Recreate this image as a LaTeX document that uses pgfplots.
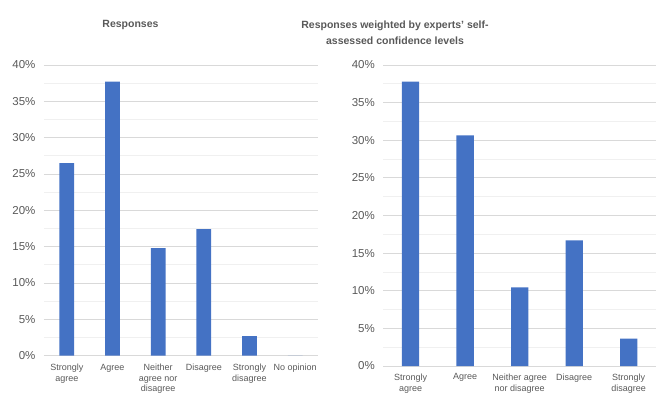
\documentclass[border=0pt]{standalone}
\usepackage{pgfplots}
\pgfplotsset{compat=1.18}
\usepackage{fontspec}
\setmainfont{Liberation Sans}
\definecolor{txt}{RGB}{89,89,89}
\definecolor{grid}{RGB}{217,217,217}
\definecolor{mgrid}{RGB}{240,240,240}
\definecolor{bar}{RGB}{68,114,196}
\pgfplotsset{
  mystyle/.style={
    scale only axis,
    anchor=south west,
    ybar,
    ymin=0, ymax=40,
    ytick={0,5,10,15,20,25,30,35,40},
    yticklabels={0\%,5\%,10\%,15\%,20\%,25\%,30\%,35\%,40\%},
    minor ytick={2.5,7.5,12.5,17.5,22.5,27.5,32.5,37.5},
    ymajorgrids, yminorgrids,
    major grid style={draw=grid, line width=0.8pt},
    minor grid style={draw=mgrid, line width=0.8pt},
    axis line style={draw=none},
    major tick length=0pt, minor tick length=0pt,
    xtick=data,
    tick style={draw=none},
    yticklabel style={font=\fontsize{11.5}{13}\selectfont, text=txt, xshift=-5pt},
    /pgf/number format/assume math mode=true,
    clip=false,
  }
}
\begin{document}
\begin{tikzpicture}[x=1pt,y=1pt]
\useasboundingbox (0,0) rectangle (670,405);
\begin{axis}[mystyle,
  at={(44pt,49.3pt)}, width=274pt, height=290.7pt,
  xmin=-0.5, xmax=5.5, bar width=14.7pt,
  xticklabel style={font=\fontsize{9}{10.5}\selectfont, text=txt, align=center, anchor=north, yshift=-5pt},
  xticklabels={{Strongly\\agree},{Agree},{Neither\\agree nor\\disagree},{Disagree},{Strongly\\disagree},{No opinion}},
]
\draw[grid, line width=0.8pt] (axis cs:-0.5,0) -- (axis cs:5.5,0);
\addplot[fill=bar, draw=none] coordinates {(0,26.5) (1,37.7) (2,14.8) (3,17.4) (4,2.7) (5,0)};
\end{axis}
\begin{axis}[mystyle,
  at={(383.3pt,39pt)}, width=272.7pt, height=301pt,
  xmin=-0.5, xmax=4.5, bar width=17.3pt,
  xticklabel style={font=\fontsize{9}{11.5}\selectfont, text=txt, align=center, anchor=north, yshift=-4pt},
  xticklabels={{Strongly\\agree},{Agree},{Neither agree\\nor disagree},{Disagree},{Strongly\\disagree}},
]
\draw[grid, line width=0.8pt] (axis cs:-0.5,0) -- (axis cs:4.5,0);
\addplot[fill=bar, draw=none] coordinates {(0,37.8) (1,30.66) (2,10.46) (3,16.7) (4,3.63)};
\end{axis}
\node[font=\bfseries\fontsize{10.5}{12.5}\selectfont, text=txt] at (130.5,380) {Responses};
\node[font=\bfseries\fontsize{10.5}{15.7}\selectfont, text=txt, align=center] at (395,372) {Responses weighted by experts' self-\\assessed confidence levels};
\end{tikzpicture}
\end{document}
